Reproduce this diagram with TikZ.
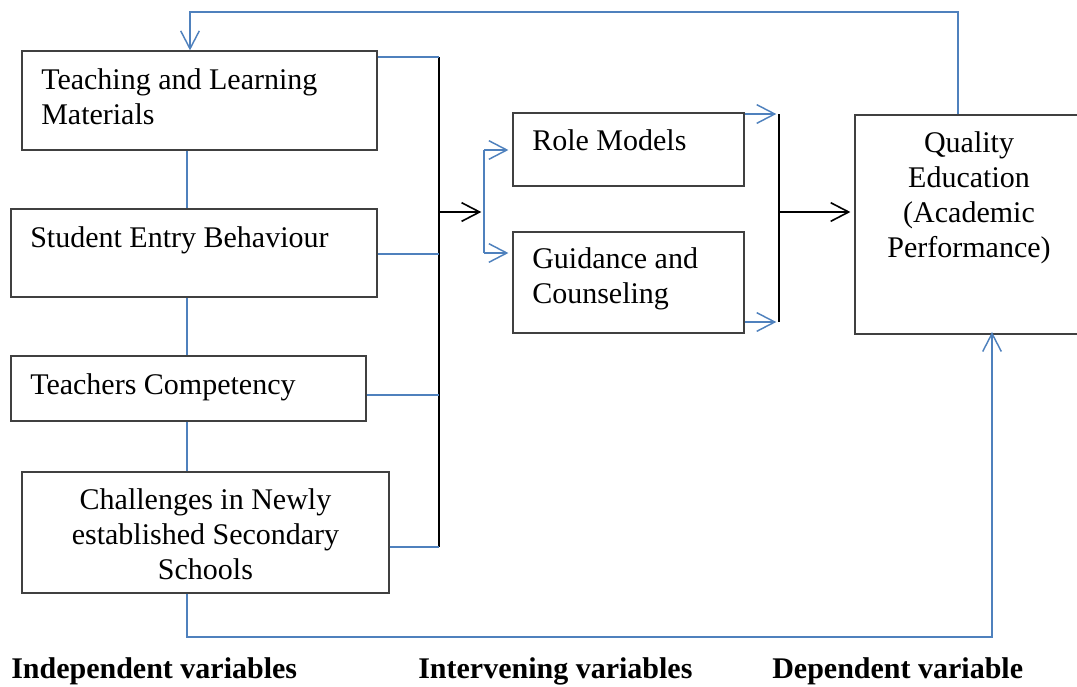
\documentclass[tikz,border=0pt]{standalone}
\usepackage{fontspec}
\setmainfont{Liberation Serif}
\usetikzlibrary{arrows.meta}
\usetikzlibrary{fit}
\definecolor{linkblue}{RGB}{79,129,189}
\definecolor{boxgray}{RGB}{64,64,64}

\begin{document}
\begin{tikzpicture}[x=0.75pt,y=0.75pt,yscale=-1,xscale=1,
  box/.style={draw=boxgray,line width=0.9pt,inner sep=0pt},
  txt/.style={inner sep=0pt,font=\fontsize{22.5}{26.25}\selectfont},
  lab/.style={inner sep=0pt,font=\fontsize{22.5}{26.25}\selectfont\bfseries},
  link/.style={draw=linkblue,line width=1.1pt},
  bus/.style={draw=black,line width=1.2pt},
  tip/.style={-{Straight Barb[length=13.5pt,width=14pt]}}
]
\useasboundingbox (0,0) rectangle (1077,686);

%Shape: Rectangle
\node[box,fit={(22,51) (377,150)}] (tlm) {};
\node[box,fit={(11,209) (377,297)}] (seb) {};
\node[box,fit={(11,356) (366,421)}] (tc) {};
\node[box,fit={(22,472) (389,593)}] (ch) {};
\node[box,fit={(513,113) (744,186)}] (rm) {};
\node[box,fit={(513,232) (744,333)}] (gc) {};
\node[box,fit={(855,115) (1084,334)}] (qe) {};

% Text Node
\node[txt,anchor=north west,align=left] at (41,68.5) {Teaching and Learning\\Materials};
\node[txt,anchor=base west] at (30,247) {Student Entry Behaviour};
\node[txt,anchor=base west] at (30,394) {Teachers Competency};
\node[txt,anchor=north,align=center] at (205.5,488.5) {Challenges in Newly\\established Secondary\\Schools};
\node[txt,anchor=base west] at (532,150) {Role Models};
\node[txt,anchor=north west,align=left] at (532,247.5) {Guidance and\\Counseling};
\node[txt,anchor=north,align=center] at (969,131.5) {Quality\\Education\\(Academic\\Performance)};

%Joints
\coordinate (j1) at (439,57);
\coordinate (j2) at (439,254);
\coordinate (j3) at (439,395);
\coordinate (j4) at (439,547);
\coordinate (j5) at (439,212);
\coordinate (hubT) at (484,150);
\coordinate (hubB) at (484,253);
\coordinate (k1) at (779,114);
\coordinate (k2) at (779,322);
\coordinate (k3) at (779,212);
\coordinate (f1) at (958,12);
\coordinate (f2) at (190,12);
\coordinate (v) at (187,0);
\coordinate (c1) at (187,637);
\coordinate (c2) at (992,637);

%Straight Lines
\draw[bus] (j1) -- (j4);
\draw[link] (tlm.east |- j1) -- (j1);
\draw[link] (seb.east |- j2) -- (j2);
\draw[link] (tc.east |- j3) -- (j3);
\draw[link] (ch.east |- j4) -- (j4);
\draw[bus,tip] (j5) -- ([xshift=-2pt]hubT |- j5);
\draw[link] (hubT) -- (hubB);
\draw[link,tip] (hubT) -- ([xshift=-3pt]rm.west |- hubT);
\draw[link,tip] (hubB) -- ([xshift=-3pt]gc.west |- hubB);
\draw[link,tip] (rm.east |- k1) -- ([xshift=-2pt]k1);
\draw[link,tip] (gc.east |- k2) -- ([xshift=-2pt]k2);
\draw[bus] (k1) -- (k2);
\draw[bus,tip] (k3) -- ([xshift=-3pt]qe.west |- k3);
\draw[link,tip] (f1 |- qe.north) -- (f1) -- (f2) -- (f2 |- tlm.north);
\draw[link] (v |- tlm.south) -- (v |- seb.north);
\draw[link] (v |- seb.south) -- (v |- tc.north);
\draw[link] (v |- tc.south) -- (v |- ch.north);
\draw[link,tip] (ch.south -| c1) -- (c1) -- (c2) -- ([yshift=-2pt]c2 |- qe.south);

% Text Node
\node[lab,anchor=base west] at (11,678) {Independent variables};
\node[lab,anchor=base west] at (418,678) {Intervening variables};
\node[lab,anchor=base west] at (772,678) {Dependent variable};

\end{tikzpicture}
\end{document}
